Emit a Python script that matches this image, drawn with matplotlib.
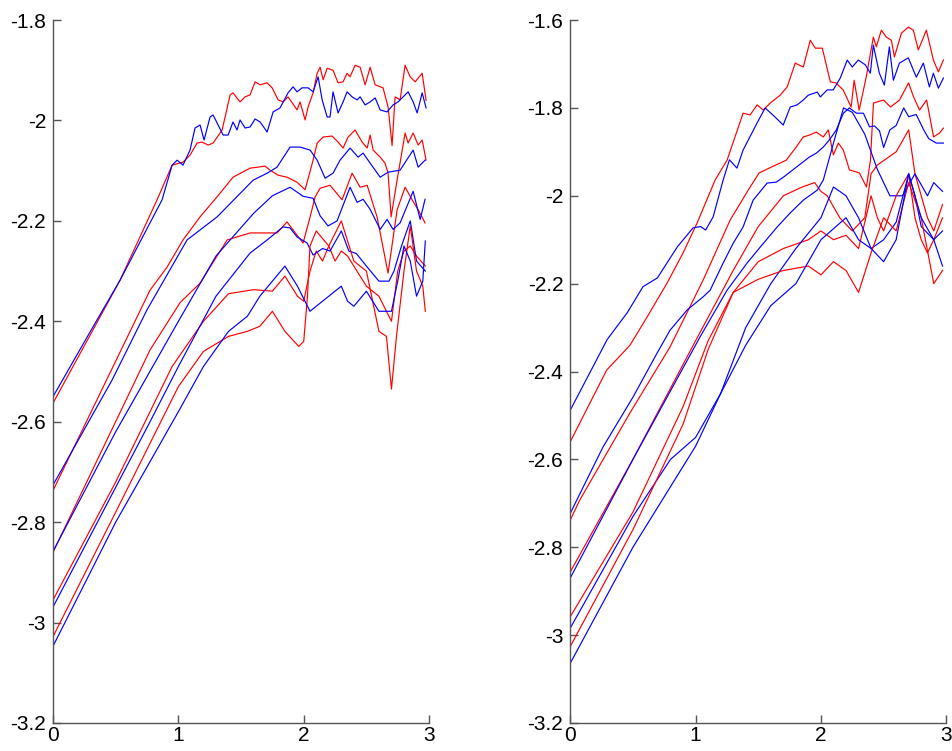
import numpy as np
import matplotlib
matplotlib.use("Agg")
import matplotlib.pyplot as plt
from matplotlib.ticker import FuncFormatter

plt.rcParams['font.family'] = ['Liberation Sans', 'DejaVu Sans']
plt.rcParams['axes.unicode_minus'] = False

# ---- left panel ----
la_red_x = [0, 0.535, 0.83, 0.95, 1.037, 1.093, 1.149, 1.189, 1.237, 1.277, 1.349, 1.413, 1.436, 1.492, 1.532, 1.572, 1.612, 1.652, 1.708, 1.748, 1.796, 1.835, 1.875, 1.947, 1.971, 2.011, 2.035, 2.075, 2.107, 2.131, 2.155, 2.187, 2.234, 2.274, 2.314, 2.346, 2.37, 2.41, 2.45, 2.49, 2.53, 2.57, 2.633, 2.673, 2.705, 2.729, 2.769, 2.809, 2.849, 2.889, 2.945, 2.976]
la_red_y = [-2.563, -2.318, -2.158, -2.089, -2.083, -2.069, -2.045, -2.043, -2.049, -2.045, -2.019, -1.949, -1.945, -1.963, -1.953, -1.949, -1.923, -1.929, -1.925, -1.935, -1.959, -1.963, -1.953, -1.979, -1.963, -1.999, -1.973, -1.945, -1.906, -1.894, -1.919, -1.896, -1.900, -1.925, -1.923, -1.906, -1.913, -1.890, -1.894, -1.929, -1.894, -1.929, -1.935, -1.973, -2.05, -1.953, -1.959, -1.890, -1.913, -1.923, -1.906, -1.96]
la_blue_x = [0, 0.319, 0.535, 0.87, 0.95, 0.99, 1.037, 1.093, 1.133, 1.173, 1.205, 1.253, 1.277, 1.317, 1.357, 1.397, 1.436, 1.468, 1.492, 1.532, 1.572, 1.612, 1.652, 1.708, 1.756, 1.811, 1.875, 1.915, 1.947, 1.987, 2.035, 2.075, 2.115, 2.147, 2.187, 2.21, 2.234, 2.274, 2.314, 2.346, 2.386, 2.426, 2.45, 2.49, 2.53, 2.57, 2.61, 2.665, 2.713, 2.753, 2.793, 2.833, 2.873, 2.905, 2.945, 2.976]
la_blue_y = [-2.550, -2.411, -2.318, -2.158, -2.089, -2.079, -2.089, -2.059, -2.015, -2.009, -2.039, -1.993, -1.989, -2.009, -2.029, -2.029, -2.003, -2.019, -1.999, -2.015, -2.013, -1.997, -2.003, -2.023, -1.983, -1.975, -1.945, -1.933, -1.943, -1.935, -1.935, -1.943, -1.913, -1.959, -1.993, -1.993, -1.943, -1.985, -1.963, -1.943, -1.953, -1.959, -1.953, -1.969, -1.963, -1.955, -1.979, -1.983, -1.969, -1.963, -1.953, -1.943, -1.963, -1.985, -1.945, -1.975]
lb_red_x = [0, 0.774, 0.91, 1.037, 1.173, 1.309, 1.436, 1.572, 1.692, 1.732, 1.796, 1.867, 1.947, 2.011, 2.075, 2.107, 2.155, 2.226, 2.274, 2.314, 2.354, 2.41, 2.466, 2.506, 2.53, 2.554, 2.61, 2.649, 2.673, 2.697, 2.745, 2.809, 2.833, 2.873, 2.913, 2.945, 2.976]
lb_red_y = [-2.737, -2.338, -2.292, -2.238, -2.192, -2.152, -2.113, -2.095, -2.091, -2.099, -2.109, -2.113, -2.123, -2.138, -2.079, -2.045, -2.033, -2.031, -2.043, -2.055, -2.033, -2.019, -2.043, -2.055, -2.029, -2.059, -2.073, -2.085, -2.105, -2.192, -2.119, -2.025, -2.045, -2.025, -2.049, -2.039, -2.079]
lb_blue_x = [0, 0.471, 0.75, 1.069, 1.309, 1.596, 1.708, 1.787, 1.891, 1.971, 2.051, 2.107, 2.171, 2.234, 2.29, 2.37, 2.434, 2.474, 2.53, 2.61, 2.673, 2.769, 2.873, 2.913, 2.968]
lb_blue_y = [-2.726, -2.517, -2.377, -2.238, -2.192, -2.119, -2.105, -2.093, -2.053, -2.053, -2.059, -2.079, -2.115, -2.105, -2.079, -2.055, -2.073, -2.065, -2.085, -2.113, -2.103, -2.099, -2.059, -2.093, -2.079]
lc_red_x = [0, 0.774, 1.013, 1.173, 1.389, 1.572, 1.787, 1.867, 1.915, 1.995, 2.051, 2.091, 2.131, 2.21, 2.306, 2.386, 2.45, 2.506, 2.585, 2.673, 2.745, 2.809, 2.865, 2.913, 2.968]
lc_red_y = [-2.86, -2.457, -2.363, -2.324, -2.238, -2.224, -2.224, -2.202, -2.218, -2.244, -2.192, -2.152, -2.135, -2.129, -2.158, -2.105, -2.133, -2.129, -2.192, -2.304, -2.178, -2.133, -2.158, -2.178, -2.204]
lc_blue_x = [0, 0.5, 1.0, 1.3, 1.6, 1.75, 1.891, 1.995, 2.075, 2.131, 2.194, 2.266, 2.37, 2.426, 2.474, 2.53, 2.61, 2.665, 2.713, 2.769, 2.873, 2.929, 2.968]
lc_blue_y = [-2.858, -2.62, -2.40, -2.27, -2.185, -2.15, -2.133, -2.151, -2.155, -2.19, -2.21, -2.2, -2.133, -2.163, -2.157, -2.177, -2.217, -2.197, -2.217, -2.204, -2.141, -2.197, -2.157]
ld_red_x = [0, 0.5, 0.95, 1.2, 1.4, 1.6, 1.75, 1.85, 1.95, 2.0, 2.05, 2.1, 2.15, 2.2, 2.25, 2.3, 2.35, 2.4, 2.5, 2.6, 2.7, 2.75, 2.8, 2.85, 2.9, 2.97]
ld_red_y = [-2.955, -2.72, -2.49, -2.4, -2.345, -2.337, -2.34, -2.31, -2.35, -2.36, -2.3, -2.26, -2.28, -2.25, -2.28, -2.26, -2.27, -2.29, -2.33, -2.35, -2.4, -2.3, -2.26, -2.25, -2.27, -2.29]
ld_blue_x = [0, 0.774, 1.0, 1.3, 1.572, 1.708, 1.835, 1.891, 1.947, 2.027, 2.075, 2.15, 2.21, 2.3, 2.36, 2.42, 2.5, 2.6, 2.68, 2.72, 2.78, 2.85, 2.9, 2.97]
ld_blue_y = [-2.969, -2.6, -2.49, -2.35, -2.264, -2.238, -2.212, -2.214, -2.232, -2.244, -2.268, -2.255, -2.26, -2.22, -2.26, -2.265, -2.29, -2.32, -2.32, -2.3, -2.25, -2.2, -2.28, -2.3]
le_red_x = [0, 0.5, 1.0, 1.2, 1.4, 1.55, 1.65, 1.75, 1.85, 1.96, 2.0, 2.03, 2.05, 2.1, 2.2, 2.3, 2.4, 2.5, 2.6, 2.66, 2.7, 2.74, 2.8, 2.85, 2.9, 2.95, 2.97]
le_red_y = [-3.028, -2.78, -2.53, -2.46, -2.43, -2.42, -2.41, -2.38, -2.42, -2.45, -2.44, -2.35, -2.25, -2.22, -2.25, -2.2, -2.28, -2.3, -2.42, -2.43, -2.535, -2.43, -2.3, -2.21, -2.3, -2.33, -2.38]
le_blue_x = [0, 0.5, 1.0, 1.2, 1.4, 1.55, 1.65, 1.75, 1.85, 1.95, 2.05, 2.1, 2.2, 2.3, 2.35, 2.4, 2.5, 2.6, 2.7, 2.75, 2.8, 2.85, 2.9, 2.95, 2.97]
le_blue_y = [-3.047, -2.8, -2.58, -2.49, -2.42, -2.39, -2.35, -2.32, -2.29, -2.33, -2.38, -2.37, -2.35, -2.33, -2.36, -2.37, -2.34, -2.38, -2.38, -2.32, -2.25, -2.28, -2.35, -2.32, -2.24]

# ---- right panel ----
ra_red_x = [0, 0.29, 0.477, 0.613, 0.772, 0.9, 1.012, 1.156, 1.251, 1.379, 1.435, 1.491, 1.539, 1.595, 1.675, 1.731, 1.795, 1.859, 1.915, 1.955, 2.011, 2.075, 2.12, 2.177, 2.241, 2.265, 2.305, 2.361, 2.418, 2.442, 2.482, 2.522, 2.562, 2.586, 2.642, 2.697, 2.737, 2.777, 2.841, 2.897, 2.937, 2.977]
ra_red_y = [-2.56, -2.397, -2.34, -2.276, -2.199, -2.13, -2.062, -1.964, -1.919, -1.812, -1.816, -1.793, -1.805, -1.789, -1.771, -1.752, -1.698, -1.707, -1.646, -1.664, -1.664, -1.741, -1.743, -1.759, -1.798, -1.737, -1.805, -1.73, -1.639, -1.661, -1.623, -1.639, -1.646, -1.684, -1.63, -1.616, -1.623, -1.668, -1.623, -1.691, -1.718, -1.691]
ra_blue_x = [0, 0.295, 0.455, 0.58, 0.695, 0.855, 0.98, 1.04, 1.08, 1.14, 1.22, 1.27, 1.33, 1.379, 1.491, 1.555, 1.635, 1.699, 1.755, 1.811, 1.859, 1.899, 1.971, 1.995, 2.05, 2.098, 2.154, 2.21, 2.25, 2.298, 2.354, 2.394, 2.418, 2.466, 2.506, 2.546, 2.578, 2.626, 2.697, 2.761, 2.817, 2.865, 2.897, 2.937, 2.977]
ra_blue_y = [-2.488, -2.327, -2.266, -2.207, -2.187, -2.116, -2.073, -2.07, -2.078, -2.048, -1.964, -1.918, -1.937, -1.896, -1.834, -1.80, -1.821, -1.839, -1.798, -1.793, -1.782, -1.771, -1.764, -1.775, -1.759, -1.759, -1.732, -1.691, -1.707, -1.691, -1.702, -1.721, -1.657, -1.721, -1.748, -1.661, -1.737, -1.698, -1.686, -1.73, -1.698, -1.752, -1.721, -1.755, -1.732]
rb_red_x = [0, 0.077, 0.477, 0.796, 1.06, 1.276, 1.435, 1.507, 1.587, 1.723, 1.803, 1.859, 1.907, 1.963, 2.019, 2.059, 2.099, 2.139, 2.179, 2.227, 2.307, 2.363, 2.395, 2.419, 2.499, 2.555, 2.627, 2.699, 2.739, 2.787, 2.843, 2.899, 2.947, 2.977]
rb_red_y = [-2.738, -2.692, -2.494, -2.344, -2.192, -2.055, -1.98, -1.948, -1.937, -1.919, -1.889, -1.866, -1.862, -1.855, -1.866, -1.85, -1.907, -1.88, -1.896, -1.941, -1.948, -1.98, -1.919, -1.789, -1.782, -1.798, -1.782, -1.743, -1.775, -1.805, -1.782, -1.866, -1.857, -1.846]
rb_blue_x = [0, 0.053, 0.261, 0.501, 0.693, 0.796, 0.932, 1.06, 1.116, 1.22, 1.3, 1.379, 1.459, 1.571, 1.643, 1.699, 1.803, 1.907, 1.963, 2.019, 2.067, 2.123, 2.179, 2.227, 2.283, 2.339, 2.387, 2.427, 2.467, 2.5, 2.55, 2.6, 2.66, 2.7, 2.76, 2.82, 2.86, 2.92, 2.977]
rb_blue_y = [-2.723, -2.692, -2.572, -2.458, -2.358, -2.306, -2.26, -2.23, -2.215, -2.153, -2.108, -2.071, -2.01, -1.971, -1.969, -1.958, -1.935, -1.912, -1.903, -1.889, -1.873, -1.85, -1.812, -1.80, -1.812, -1.812, -1.843, -1.841, -1.852, -1.89, -1.85, -1.84, -1.8, -1.82, -1.815, -1.85, -1.87, -1.88, -1.88]
rc_red_x = [0, 0.5, 1.0, 1.3, 1.5, 1.7, 1.85, 1.95, 2.0, 2.05, 2.15, 2.25, 2.35, 2.4, 2.45, 2.5, 2.6, 2.7, 2.75, 2.8, 2.85, 2.9, 2.97]
rc_red_y = [-2.856, -2.6, -2.33, -2.17, -2.07, -2.0, -1.98, -1.97, -1.99, -2.0, -2.05, -2.08, -2.05, -1.95, -1.93, -1.92, -1.9, -1.85, -1.95, -2.0, -2.05, -2.08, -2.02]
rc_blue_x = [0, 0.5, 1.036, 1.251, 1.411, 1.515, 1.651, 1.755, 1.859, 1.971, 2.019, 2.1, 2.18, 2.25, 2.35, 2.45, 2.5, 2.55, 2.65, 2.75, 2.85, 2.9, 2.97]
rc_blue_y = [-2.87, -2.6, -2.321, -2.215, -2.153, -2.117, -2.071, -2.039, -2.01, -1.987, -1.964, -1.88, -1.80, -1.81, -1.86, -1.94, -1.97, -2.0, -2.0, -1.95, -2.0, -1.97, -1.99]
rd_red_x = [0, 0.5, 0.9, 1.1, 1.3, 1.5, 1.7, 1.9, 2.0, 2.1, 2.2, 2.3, 2.4, 2.45, 2.5, 2.6, 2.7, 2.75, 2.8, 2.85, 2.9, 2.97]
rd_red_y = [-2.958, -2.72, -2.48, -2.33, -2.22, -2.15, -2.12, -2.1, -2.08, -2.1, -2.09, -2.12, -2.0, -2.05, -2.08, -2.0, -1.95, -2.05, -2.1, -2.13, -2.1, -2.05]
rd_blue_x = [0, 0.5, 0.8, 1.0, 1.2, 1.4, 1.6, 1.8, 2.0, 2.1, 2.2, 2.3, 2.4, 2.5, 2.6, 2.7, 2.75, 2.8, 2.9, 2.97]
rd_blue_y = [-2.984, -2.73, -2.6, -2.55, -2.45, -2.3, -2.2, -2.12, -2.05, -1.98, -2.0, -2.05, -2.12, -2.1, -2.06, -1.95, -2.0, -2.07, -2.1, -2.08]
re_red_x = [0, 0.5, 0.9, 1.1, 1.3, 1.5, 1.7, 1.9, 2.0, 2.1, 2.2, 2.3, 2.4, 2.5, 2.6, 2.7, 2.8, 2.9, 2.97]
re_red_y = [-3.026, -2.76, -2.52, -2.35, -2.22, -2.19, -2.17, -2.16, -2.18, -2.15, -2.17, -2.22, -2.13, -2.05, -2.08, -1.97, -2.05, -2.2, -2.17]
re_blue_x = [0, 0.5, 1.0, 1.2, 1.4, 1.6, 1.8, 2.0, 2.2, 2.3, 2.4, 2.5, 2.6, 2.7, 2.8, 2.9, 2.97]
re_blue_y = [-3.064, -2.8, -2.57, -2.45, -2.34, -2.25, -2.2, -2.1, -2.05, -2.1, -2.12, -2.15, -2.1, -1.95, -2.05, -2.1, -2.16]

left_lines = [
    (la_red_x, la_red_y, 'r'), (la_blue_x, la_blue_y, 'b'),
    (lb_red_x, lb_red_y, 'r'), (lb_blue_x, lb_blue_y, 'b'),
    (lc_red_x, lc_red_y, 'r'), (lc_blue_x, lc_blue_y, 'b'),
    (ld_red_x, ld_red_y, 'r'), (ld_blue_x, ld_blue_y, 'b'),
    (le_red_x, le_red_y, 'r'), (le_blue_x, le_blue_y, 'b'),
]
right_lines = [
    (ra_red_x, ra_red_y, 'r'), (ra_blue_x, ra_blue_y, 'b'),
    (rb_red_x, rb_red_y, 'r'), (rb_blue_x, rb_blue_y, 'b'),
    (rc_red_x, rc_red_y, 'r'), (rc_blue_x, rc_blue_y, 'b'),
    (rd_red_x, rd_red_y, 'r'), (rd_blue_x, rd_blue_y, 'b'),
    (re_red_x, re_red_y, 'r'), (re_blue_x, re_blue_y, 'b'),
]

fig = plt.figure(figsize=(9.52, 7.51), dpi=100)
ax1 = fig.add_axes([0.0557, 0.0373, 0.395, 0.936])
ax2 = fig.add_axes([0.599, 0.0373, 0.395, 0.936])

colors = {'r': '#ff0000', 'b': '#0000ff'}

def style(ax, ylim, yticks):
    ax.set_xlim(0, 3)
    ax.set_ylim(*ylim)
    ax.set_xticks([0, 1, 2, 3])
    ax.set_yticks(yticks)
    ax.yaxis.set_major_formatter(FuncFormatter(lambda v, p: '%g' % round(v, 2)))
    for s in ['top', 'right']:
        ax.spines[s].set_visible(False)
    for s in ['left', 'bottom']:
        ax.spines[s].set_color('#555555')
        ax.spines[s].set_linewidth(1.0)
    ax.tick_params(direction='in', length=6, width=1.0, color='#555555',
                   labelsize=15, labelcolor='black')
    ax.tick_params(axis='y', pad=5)
    ax.tick_params(axis='x', pad=2)

for x, y, c in left_lines:
    ax1.plot(x, y, color=colors[c], lw=0.85)
for x, y, c in right_lines:
    ax2.plot(x, y, color=colors[c], lw=0.85)

style(ax1, (-3.2, -1.8), np.arange(-3.2, -1.79, 0.2))
style(ax2, (-3.2, -1.6), np.arange(-3.2, -1.59, 0.2))

fig.savefig('out.png', dpi=100)
